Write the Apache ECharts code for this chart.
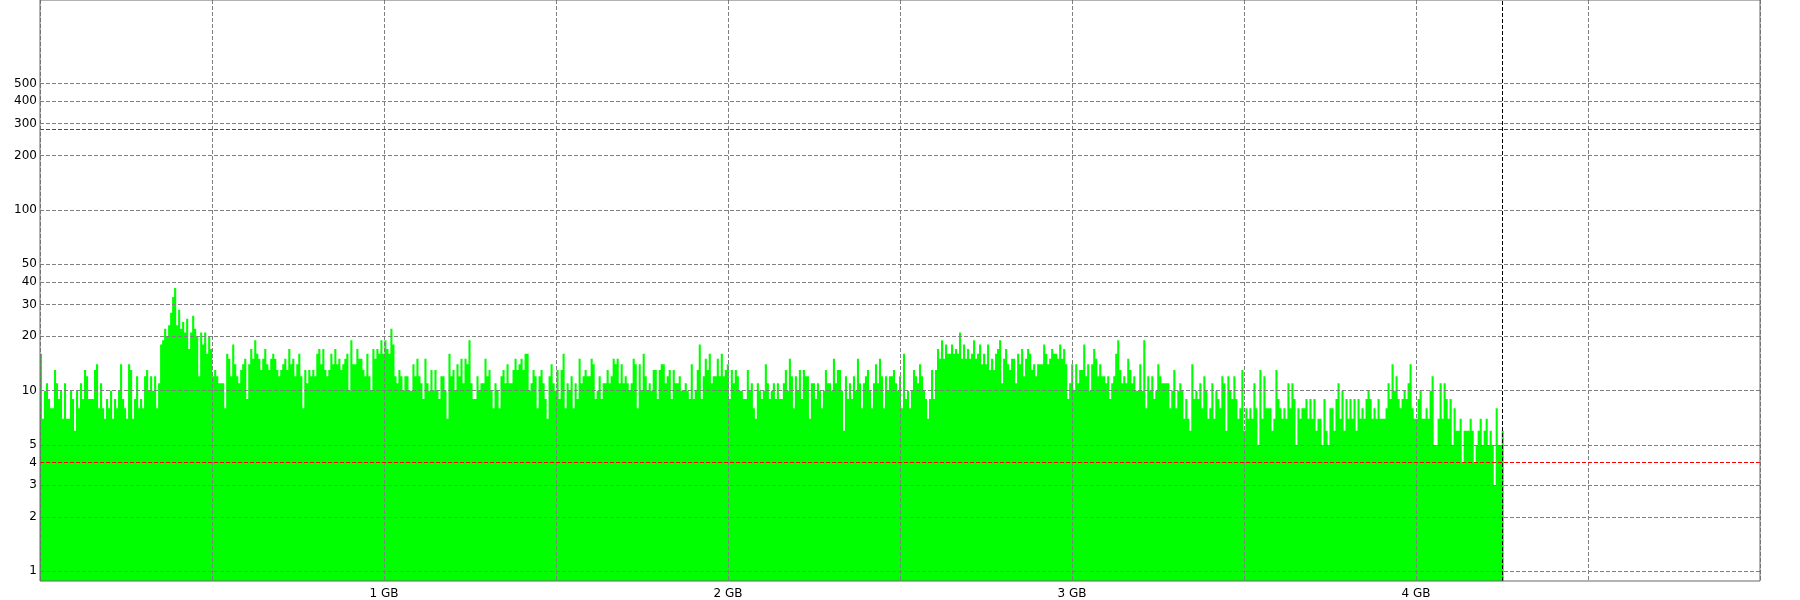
<!DOCTYPE html>
<html>
<head>
<meta charset="utf-8">
<title>Verteilung</title>
<script src="https://cdn.jsdelivr.net/npm/echarts@6/dist/echarts.min.js"></script>
<style>
  html, body { margin: 0; padding: 0; background: #fff; }
  #chart { width: 1800px; height: 600px; }
</style>
</head>
<body>
<div id="chart"></div>
<script>
// log ticks shown on the left
const yTicks = [1, 2, 3, 4, 5, 10, 20, 30, 40, 50, 100, 200, 300, 400, 500];
// x axis in GB, labels only on whole numbers
const xLabelsGB = [1, 2, 3, 4];
// red reference lines (upper / lower) and end of data marker
const redLines = [278, 4];
const endGB = 4.255;
// width of one histogram bin in GB
const binGB = endGB / 731;

// counts per bin, 25 bins per row
const counts = [
  16,7,10,11,9,8,8,13,11,9,10,7,11,7,7,10,9,6,10,8,11,9,13,12,9,
  9,9,13,14,8,11,8,7,9,8,10,7,9,8,10,14,9,8,7,14,13,7,9,12,8,
  9,8,12,13,10,12,10,12,8,11,18,19,22,20,23,27,33,37,23,28,22,24,21,25,17,
  21,26,22,20,12,21,18,21,16,20,17,12,13,12,11,11,11,8,16,15,12,18,14,12,11,
  13,14,15,9,14,17,15,19,16,15,13,15,17,14,13,15,16,15,13,12,13,14,15,13,17,
  14,15,12,14,16,12,8,13,11,13,12,13,12,16,17,14,17,13,12,13,16,14,17,14,15,
  13,14,15,16,10,19,14,14,17,15,15,13,12,16,12,10,17,15,17,16,19,16,19,17,16,
  22,18,12,11,13,12,10,12,12,10,10,14,12,15,12,11,9,15,11,10,13,10,13,10,9,
  12,12,10,7,16,12,13,10,14,12,15,11,15,14,19,11,9,9,12,10,11,11,15,12,13,
  10,8,11,10,8,12,13,11,14,11,11,13,15,13,14,15,13,16,16,10,11,13,12,8,12,
  13,11,9,7,12,14,11,10,13,9,13,16,8,11,10,12,8,11,9,15,11,12,13,12,12,
  15,14,9,10,12,9,11,11,13,11,12,15,14,15,11,14,11,12,11,10,11,15,14,8,14,
  10,16,12,10,11,10,13,13,9,13,14,14,11,12,13,9,13,11,11,12,10,10,11,10,9,
  14,9,10,13,18,9,12,15,13,16,11,12,12,15,12,16,12,13,14,9,13,11,13,12,10,
  10,9,9,13,10,11,8,7,11,10,9,10,14,11,9,10,11,9,11,9,9,11,13,10,15,
  12,8,12,10,13,9,13,12,12,7,11,11,9,11,10,8,10,13,11,11,10,15,11,13,13,
  10,6,12,9,11,9,12,10,15,11,8,11,12,13,10,8,11,14,11,15,12,8,12,10,12,
  12,13,11,10,12,8,16,9,10,8,10,13,12,11,14,12,10,9,7,9,13,9,13,17,15,
  19,15,18,16,16,18,16,17,16,21,15,18,15,17,15,16,19,15,16,18,14,16,14,18,13,
  15,13,16,17,19,11,15,17,14,13,15,15,11,16,14,17,12,15,17,16,13,14,12,14,14,
  14,18,16,14,15,17,16,16,15,18,15,17,14,9,11,14,10,14,11,13,13,18,12,14,10,
  14,17,15,12,14,12,12,11,12,9,11,12,16,19,13,11,12,11,15,13,11,12,10,10,14,
  10,19,8,12,10,12,9,10,14,12,11,11,11,11,8,10,13,8,10,11,10,7,9,7,6,
  14,9,10,9,11,8,12,10,7,8,11,7,10,9,8,12,11,6,12,10,9,12,9,7,8,
  13,6,8,7,8,7,11,8,5,13,7,12,8,8,8,6,7,13,9,8,7,8,7,11,8,
  11,9,5,8,7,8,8,9,7,9,7,9,6,7,7,5,9,6,5,8,8,6,9,11,7,
  10,6,9,7,9,7,9,6,9,7,8,7,9,10,9,7,8,7,9,7,7,7,8,11,9,
  14,10,12,9,8,9,10,9,11,14,8,7,7,9,10,7,7,8,7,10,12,5,5,7,11,
  7,11,9,7,9,5,8,6,6,7,4,6,6,6,7,6,4,5,6,7,5,6,7,5,6,
  5,3,8,5,5,6
];

// axis range matches the picture: 1 at ~10px above the bottom, ~3.2 decades tall
const yMin = 0.884;
const yMax = 1452;

const gridLine = { color: '#808080', type: [4, 2], width: 1 };
const labelFont = { color: '#000', fontFamily: 'DejaVu Sans', fontSize: 12 };

const chart = echarts.init(document.getElementById('chart'));
chart.setOption({
  animation: false,
  grid: {
    left: 40,
    right: 40,
    top: 0,
    bottom: 18,
    show: true,
    borderColor: '#666',
    borderWidth: 1,
    z: 10,
  },
  xAxis: {
    type: 'value',
    min: 0,
    max: 5,
    interval: 0.5,
    z: 5,
    axisLine: { show: false },
    axisTick: { show: false },
    axisLabel: Object.assign({
      margin: 7,
      formatter: (v) => (xLabelsGB.indexOf(v) >= 0 ? v + ' GB' : ''),
    }, labelFont),
    splitLine: { show: true, lineStyle: gridLine },
  },
  yAxis: {
    type: 'log',
    min: yMin,
    max: yMax,
    startValue: yMin,
    z: 5,
    axisLine: { show: false },
    axisTick: { show: false, customValues: yTicks },
    axisLabel: Object.assign({ margin: 3, customValues: yTicks }, labelFont),
    splitLine: { show: true, lineStyle: gridLine },
  },
  series: [
    {
      type: 'bar',
      data: counts.map((v, i) => [(i + 0.5) * binGB, v]),
      barWidth: 2.1,
      // large mode fills all bins as one path, so no seams between them
      large: true,
      largeThreshold: 100,
      itemStyle: { color: '#00ff00' },
      silent: true,
      markLine: {
        silent: true,
        symbol: 'none',
        label: { show: false },
        data: [
          { yAxis: redLines[0], lineStyle: { color: '#ff0000', type: [4, 2], width: 1 } },
          { yAxis: redLines[1], lineStyle: { color: '#ff0000', type: [4, 2], width: 1 } },
          { xAxis: endGB, lineStyle: { color: '#000', type: [4, 2], width: 1 } },
        ],
      },
    },
  ],
});
</script>
</body>
</html>
